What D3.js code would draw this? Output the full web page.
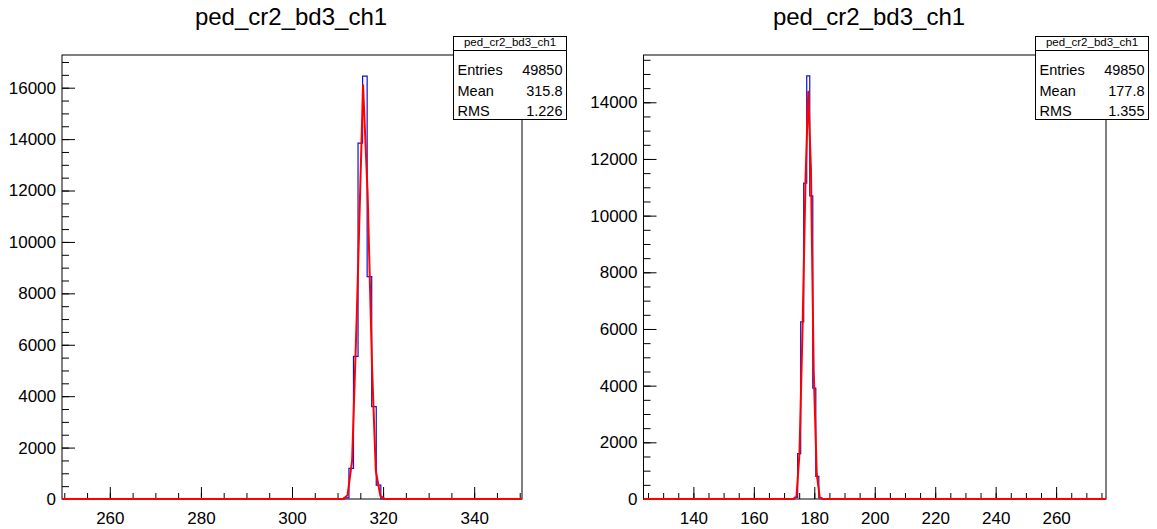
<!DOCTYPE html>
<html>
<head>
<meta charset="utf-8">
<script src="https://cdn.jsdelivr.net/npm/d3@7"></script>
<style>
  body { margin: 0; background: #fff; }
  svg { display: block; font-family: "Liberation Sans", Arial, Helvetica, sans-serif; }
</style>
</head>
<body>
<div id="chart"></div>
<script>
// histogram contents (bin centres, width 1)
const histName = "ped_cr2_bd3_ch1";

const leftBins   = [312, 313, 314, 315, 316, 317, 318, 319];
const leftCounts = [40, 1190, 5550, 13840, 16450, 8650, 3590, 540];
const leftStats  = ["49850", "315.8", "1.226"];

const rightBins   = [174, 175, 176, 177, 178, 179, 180, 181, 182];
const rightCounts = [60, 1600, 6250, 11150, 14930, 10700, 3910, 800, 40];
const rightStats  = ["49850", "177.8", "1.355"];

// red fit curve vertices
const leftFitX = [249.5, 311.2, 312.2, 313.2, 314.2, 315.6, 316.6, 317.6, 318.4, 319.4, 320.4, 350.5];
const leftFitY = [0, 0, 150, 1500, 7000, 16100, 11900, 5000, 1100, 120, 0, 0];

const rightFitX = [123.5, 172.9, 174.1, 175.1, 176.1, 177.1, 178.0, 178.9, 179.8, 180.8, 181.8, 182.8, 276.5];
const rightFitY = [0, 0, 80, 1610, 5960, 11260, 14370, 11610, 4550, 900, 60, 0, 0];

const statLabels = ["Entries", "Mean", "RMS"];

const W = 1157, H = 529;
const svg = d3.select("#chart").append("svg").attr("width", W).attr("height", H);
svg.append("rect").attr("width", W).attr("height", H).attr("fill", "#fff");

function drawPad(opt) {
  const g = svg.append("g");
  const x = d3.scaleLinear().domain(opt.xdom).range([opt.x0, opt.x1]);
  const y = d3.scaleLinear().domain([0, opt.ymax]).range([opt.y1, opt.y0]);

  // title
  g.append("text")
    .attr("x", opt.cx).attr("y", 25)
    .attr("text-anchor", "middle")
    .style("font-size", "24px")
    .text(histName);

  // minor ticks
  const xMinor = d3.range(Math.ceil(opt.xdom[0] / 5) * 5, opt.xdom[1], 5);
  const yMinor = d3.range(0, opt.ymax, 500);
  g.append("g").attr("transform", `translate(0,${opt.y1})`)
    .call(d3.axisBottom(x).tickValues(xMinor).tickSize(-6).tickFormat(""))
    .call(a => a.select(".domain").remove());
  g.append("g").attr("transform", `translate(${opt.x0},0)`)
    .call(d3.axisLeft(y).tickValues(yMinor).tickSize(-7).tickFormat(""))
    .call(a => a.select(".domain").remove());

  // major ticks + labels
  const xa = g.append("g").attr("transform", `translate(0,${opt.y1})`)
    .call(d3.axisBottom(x).tickValues(opt.xMajor).tickSize(-12).tickPadding(13).tickFormat(d3.format("d")));
  xa.select(".domain").remove();
  xa.selectAll("text").style("font-size", "17px").attr("fill", "#000");

  const ya = g.append("g").attr("transform", `translate(${opt.x0},0)`)
    .call(d3.axisLeft(y).tickValues(d3.range(0, opt.ymax, 2000)).tickSize(-13).tickPadding(6).tickFormat(d3.format("d")));
  ya.select(".domain").remove();
  ya.selectAll("text").style("font-size", "17px").attr("fill", "#000");

  // frame
  g.append("rect")
    .attr("x", opt.x0).attr("y", opt.y0)
    .attr("width", opt.x1 - opt.x0).attr("height", opt.y1 - opt.y0)
    .attr("fill", "none").attr("stroke", "#000").attr("stroke-width", 1);

  // histogram outline (no inner bin walls)
  const n = opt.bins.length;
  const pts = [[opt.xdom[0], 0], [opt.bins[0] - 0.5, 0]];
  opt.bins.forEach((c, i) => {
    pts.push([c - 0.5, opt.counts[i]], [c + 0.5, opt.counts[i]]);
  });
  pts.push([opt.bins[n - 1] + 0.5, 0], [opt.xdom[1], 0]);
  const line = d3.line().x(d => x(d[0])).y(d => y(d[1]));
  g.append("path").datum(pts)
    .attr("d", line)
    .attr("fill", "none").attr("stroke", "#1010d0").attr("stroke-width", 1.2);

  // fit
  g.append("path").datum(opt.fitX.map((v, i) => [v, opt.fitY[i]]))
    .attr("d", line)
    .attr("fill", "none").attr("stroke", "#ff0000").attr("stroke-width", 2)
    .attr("stroke-linejoin", "round");

  // stats box
  const bx = opt.box, bw = 113, bt = 36.5, bh = 83;
  g.append("rect").attr("x", bx).attr("y", bt).attr("width", bw).attr("height", bh)
    .attr("fill", "#fff").attr("stroke", "#000");
  g.append("line").attr("x1", bx).attr("x2", bx + bw).attr("y1", 50.5).attr("y2", 50.5).attr("stroke", "#000");
  g.append("text").attr("x", bx + bw / 2).attr("y", 46)
    .attr("text-anchor", "middle").style("font-size", "11.5px").text(histName);
  const rowY = [74.5, 95.5, 115.5];
  statLabels.forEach((s, i) => {
    g.append("text").attr("x", bx + 4).attr("y", rowY[i]).style("font-size", "14.5px").text(s);
    g.append("text").attr("x", bx + bw - 4).attr("y", rowY[i]).attr("text-anchor", "end")
      .style("font-size", "14.5px").text(opt.stats[i]);
  });
}

drawPad({
  cx: 291, x0: 62, x1: 522, y0: 55, y1: 499,
  xdom: [249.5, 350.5], ymax: 17272, xMajor: [260, 280, 300, 320, 340],
  bins: leftBins, counts: leftCounts, fitX: leftFitX, fitY: leftFitY,
  box: 453.5, stats: leftStats
});

drawPad({
  cx: 869, x0: 643.5, x1: 1106, y0: 55, y1: 499,
  xdom: [123.5, 276.5], ymax: 15669, xMajor: [140, 160, 180, 200, 220, 240, 260],
  bins: rightBins, counts: rightCounts, fitX: rightFitX, fitY: rightFitY,
  box: 1035.5, stats: rightStats
});
</script>
</body>
</html>
